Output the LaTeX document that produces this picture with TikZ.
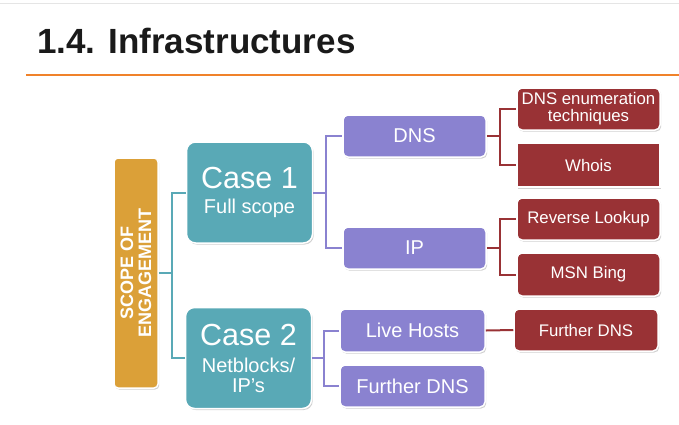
\documentclass[tikz,border=0pt]{standalone}
\usepackage{fontspec}
\setmainfont{Liberation Sans}
\usetikzlibrary{shadows}
\definecolor{cteal}{HTML}{59A9B6}
\definecolor{cpurple}{HTML}{8A82D0}
\definecolor{cred}{HTML}{993235}
\definecolor{cgold}{HTML}{DBA038}
\definecolor{corange}{HTML}{F0822A}
\definecolor{ctitle}{HTML}{1A1A1A}
\tikzset{
  basebox/.style={draw=white, line width=1.5pt, text=white, align=center, inner sep=0pt,
    drop shadow={shadow xshift=1.2pt, shadow yshift=-1.5pt, opacity=0.3, fill=black!60}},
  goldbox/.style={basebox, rounded corners=4pt, fill=cgold, minimum width=230pt, minimum height=44pt,
    font=\fontsize{18}{18}\selectfont\bfseries},
  casebox/.style={basebox, rounded corners=9pt, fill=cteal, minimum width=126pt, minimum height=101pt,
    font=\fontsize{20}{20}\selectfont},
  purplebox/.style={basebox, rounded corners=5pt, fill=cpurple, minimum width=143pt, minimum height=42pt,
    font=\fontsize{20}{22}\selectfont},
  redbox/.style={basebox, rounded corners=5pt, fill=cred, minimum width=143pt, minimum height=42pt,
    font=\fontsize{16.8}{17}\selectfont},
  tealline/.style={draw=cteal, line width=2pt},
  purpleline/.style={draw=cpurple, line width=2pt},
  redline/.style={draw=cred, line width=2pt},
}
\begin{document}
\begin{tikzpicture}[x=1pt,y=-1pt]
\useasboundingbox[fill=white] (0,0) rectangle (679,424);
\draw[black!10, line width=1pt] (0,3.5) -- (679,3.5);
\node[anchor=base west, inner sep=0pt, text=ctitle, font=\fontsize{35}{38}\selectfont\bfseries] (title) at (37,53) {1.4. Infrastructures};
\draw[corange, line width=2.2pt] (26,75) -- (679,75);

% nodes
\node[goldbox, rotate=90] (scope) at (136,273) {SCOPE OF\\ENGAGEMENT};
\node[casebox] (case1) at (249.5,192.5) {{\fontsize{30.5}{20}\selectfont Case 1}\\[5pt]Full scope};
\node[casebox] (case2) at (248.5,358) {{\fontsize{30.5}{20}\selectfont Case 2}\\[7pt]Netblocks/\\IP’s};

\node[purplebox] (dns) at (414.5,136) {DNS};
\node[purplebox] (ip) at (414.5,248) {IP};
\node[purplebox, minimum width=145pt, minimum height=43pt] (live) at (412.5,330.5) {Live Hosts};
\node[purplebox, minimum width=145pt] (fdnsp) at (412.5,386) {Further DNS};

\node[redbox] (enum) at (588.5,109) {DNS enumeration\\techniques};
\node[redbox, rounded corners=0pt, minimum height=44pt] (whois) at (588.5,165) {Whois};
\node[redbox] (rev) at (588.5,219) {Reverse Lookup};
\node[redbox, minimum height=43pt] (bing) at (588.5,274.5) {MSN Bing};
\node[redbox, minimum width=144pt] (fdnsr) at (586,330) {Further DNS};

% junctions
\coordinate (j0) at (172,273);
\coordinate (j1) at (326,192.5);
\coordinate (j2) at (324,358);
\coordinate (jd) at (500,136);
\coordinate (ji) at (500,248);

\draw[tealline] (scope.south) -- (j0);
\draw[tealline] (j0) |- (case1.west);
\draw[tealline] (j0) |- (case2.west);
\draw[purpleline] (case1.east) -- (j1);
\draw[purpleline] (j1) |- (dns.west);
\draw[purpleline] (j1) |- (ip.west);
\draw[purpleline] (case2.east) -- (j2);
\draw[purpleline] (j2) |- (live.west);
\draw[purpleline] (j2) |- (fdnsp.west);
\draw[redline] (dns.east) -- (jd);
\draw[redline] (jd) |- (enum.west);
\draw[redline] (jd) |- (whois.west);
\draw[redline] (ip.east) -- (ji);
\draw[redline] (ji) |- (rev.west);
\draw[redline] (ji) |- (bing.west);
\draw[redline] (live.east) -- (fdnsr.west);
\end{tikzpicture}
\end{document}
